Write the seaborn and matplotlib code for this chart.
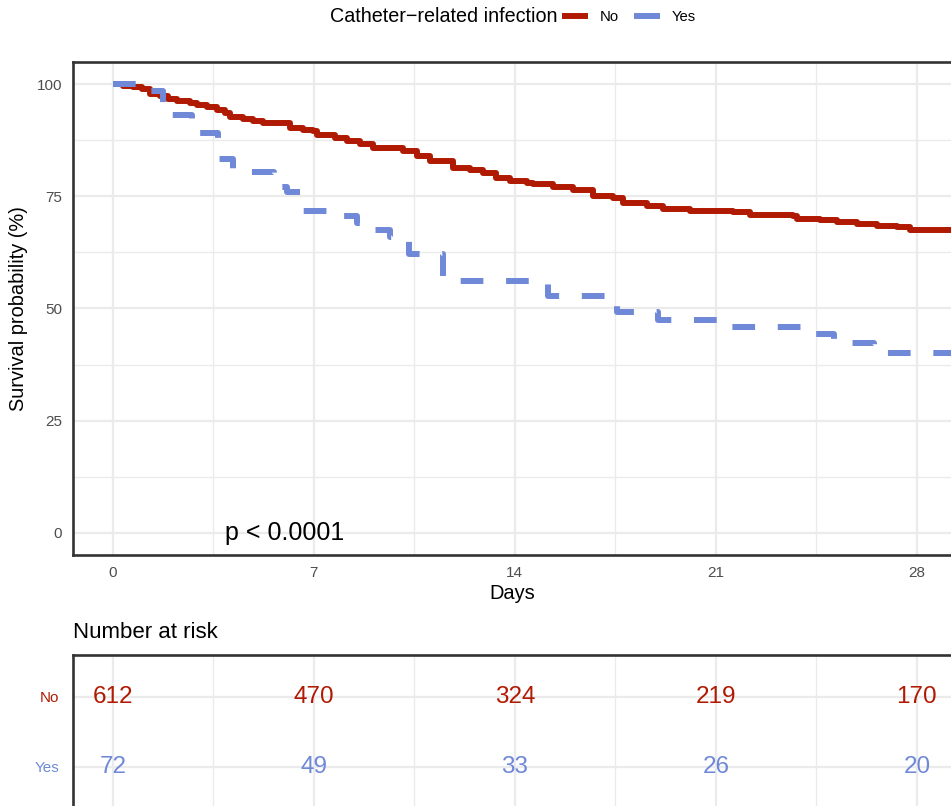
import numpy as np
import pandas as pd
import matplotlib
matplotlib.use("Agg")
import matplotlib.pyplot as plt
from matplotlib.lines import Line2D
import seaborn as sns

# ---------------- data ----------------
groups = ["No", "Yes"]
times_no = [0, 0.36, 0.71, 1.00, 1.29, 1.64, 1.93, 2.22, 2.68, 2.92, 3.26, 3.61, 3.90, 4.08,
            4.54, 4.89, 5.24, 6.17, 6.63, 6.98, 7.10, 7.75, 8.14, 8.60, 9.07, 10.11, 10.58,
            11.04, 11.85, 12.43, 12.90, 13.36, 13.83, 14.41, 14.63, 15.33, 16.02, 16.72, 17.42,
            17.76, 18.60, 19.16, 20.10, 21.60, 22.19, 23.68, 23.82, 24.63, 25.22, 25.91, 26.61,
            27.31, 27.76, 29.2]
surv_no = [100, 99.7, 99.5, 98.9, 97.8, 97.5, 96.8, 96.3, 95.9, 95.4, 95.0, 94.4, 93.7, 92.7,
           92.2, 91.8, 91.3, 90.3, 89.8, 89.6, 88.8, 88.1, 87.3, 86.6, 85.9, 85.1, 84.0,
           82.9, 81.4, 80.9, 80.3, 79.2, 78.4, 78.1, 77.7, 77.0, 76.4, 75.2, 74.6,
           73.5, 72.8, 72.3, 71.7, 71.5, 70.8, 70.6, 69.9, 69.7, 69.3, 68.9, 68.4,
           68.2, 67.6, 67.6]
times_yes = [0, 1.3, 1.75, 2.75, 3.66, 4.2, 5.6, 6.05, 6.6, 7.9, 8.5, 9.0, 9.65, 10.3, 11.5,
             15.15, 17.55, 19.0, 21.3, 24.0, 25.1, 26.5, 29.2]
surv_yes = [100, 98.6, 93.1, 89.1, 83.4, 80.4, 77.0, 76.0, 71.7, 70.6, 69.0, 67.5, 66.0, 62.1,
            56.2, 52.9, 49.3, 47.5, 45.8, 44.2, 42.2, 40.0, 40.0]

risk_times = [0, 7, 14, 21, 28]
risk_no = [612, 470, 324, 219, 170]
risk_yes = [72, 49, 33, 26, 20]

x_ticks = [0, 7, 14, 21, 28]
y_ticks = [0, 25, 50, 75, 100]
pval_text = "p < 0.0001"
legend_title = "Catheter\u2212related infection"

# ---------------- style ----------------
RED = "#B01A02"
BLUE = "#6F89D8"
palette = {"No": RED, "Yes": BLUE}

sns.set_style("white")
plt.rcParams["font.family"] = ["Liberation Sans", "DejaVu Sans"]
plt.rcParams["text.color"] = "black"
plt.rcParams["axes.labelcolor"] = "black"

df = pd.concat([
    pd.DataFrame({"time": times_no, "surv": surv_no, "group": "No"}),
    pd.DataFrame({"time": times_yes, "surv": surv_yes, "group": "Yes"}),
], ignore_index=True)

W, H = 951, 806
fig = plt.figure(figsize=(W / 100, H / 100), dpi=100)
ax = fig.add_axes([73 / W, 1 - 555 / H, 1 - 73 / W, (555 - 62) / H])
rax = fig.add_axes([73 / W, 1 - 809 / H, 1 - 73 / W, (809 - 655) / H])

XLIM = (-1.39, 29.19)
GRID = "#EBEBEB"
SPINE = "#333333"

sns.lineplot(data=df, x="time", y="surv", hue="group", style="group",
             palette=palette, dashes={"No": "", "Yes": (3.8, 3.8)},
             drawstyle="steps-post", linewidth=4.3, legend=False, ax=ax,
             estimator=None, sort=False)
for ln in ax.get_lines():
    ln.set_solid_capstyle("butt")
    ln.set_dash_capstyle("butt")

ax.set_xlim(*XLIM)
ax.set_ylim(-5, 105)
ax.set_xticks(x_ticks)
ax.set_xticks([3.5, 10.5, 17.5, 24.5], minor=True)
ax.set_yticks(y_ticks)
ax.set_yticks([12.5, 37.5, 62.5, 87.5], minor=True)
ax.grid(which="major", color=GRID, lw=1.6)
ax.grid(which="minor", color=GRID, lw=1.0)
ax.set_axisbelow(True)
ax.tick_params(which="major", length=5, width=1.5, color=SPINE, labelcolor="#4D4D4D",
               labelsize=11, pad=3)
ax.tick_params(which="minor", length=0)
for s in ["left", "top", "bottom"]:
    ax.spines[s].set_color(SPINE)
    ax.spines[s].set_linewidth(1.9)
ax.spines["right"].set_visible(False)
ax.set_xlabel("Days", fontsize=14.4, labelpad=3)
ax.set_ylabel("Survival probability (%)", fontsize=14.4, labelpad=6)

ax.text(3.9, 0, pval_text, ha="left", va="center", fontsize=18, color="black")

# legend
fig.text(557 / W, 1 - 17 / H, legend_title, ha="right", va="center", fontsize=14.2)
handles = [Line2D([0], [0], color=RED, lw=4.3, solid_capstyle="butt"),
           Line2D([0], [0], color=BLUE, lw=4.3, solid_capstyle="butt")]
fig.legend(handles, groups, ncol=2, loc="center left",
           bbox_to_anchor=(562 / W, 1 - 17 / H), frameon=False, fontsize=10.7,
           handlelength=1.75, handletextpad=0.8, columnspacing=1.0, borderpad=0,
           borderaxespad=0)

# risk table
rax.set_xlim(*XLIM)
rax.set_ylim(0.4, 2.6)
rax.set_xticks(x_ticks)
rax.set_xticks([3.5, 10.5, 17.5, 24.5], minor=True)
rax.set_xticklabels([])
rax.set_yticks([2, 1])
rax.set_yticklabels(groups)
for lbl, c in zip(rax.get_yticklabels(), [RED, BLUE]):
    lbl.set_color(c)
rax.tick_params(which="both", length=0, labelsize=11, pad=10)
rax.grid(which="major", color=GRID, lw=1.6)
rax.grid(which="minor", axis="x", color=GRID, lw=1.0)
rax.set_axisbelow(True)
for s in ["left", "top"]:
    rax.spines[s].set_color(SPINE)
    rax.spines[s].set_linewidth(1.9)
for s in ["right", "bottom"]:
    rax.spines[s].set_visible(False)
for t, n in zip(risk_times, risk_no):
    rax.text(t, 2, str(n), ha="center", va="center", fontsize=17.5, color=RED)
for t, n in zip(risk_times, risk_yes):
    rax.text(t, 1, str(n), ha="center", va="center", fontsize=17.5, color=BLUE)
fig.text(73 / W, 1 - 632 / H, "Number at risk", ha="left", va="center", fontsize=16)

fig.savefig("out.png", dpi=100)
